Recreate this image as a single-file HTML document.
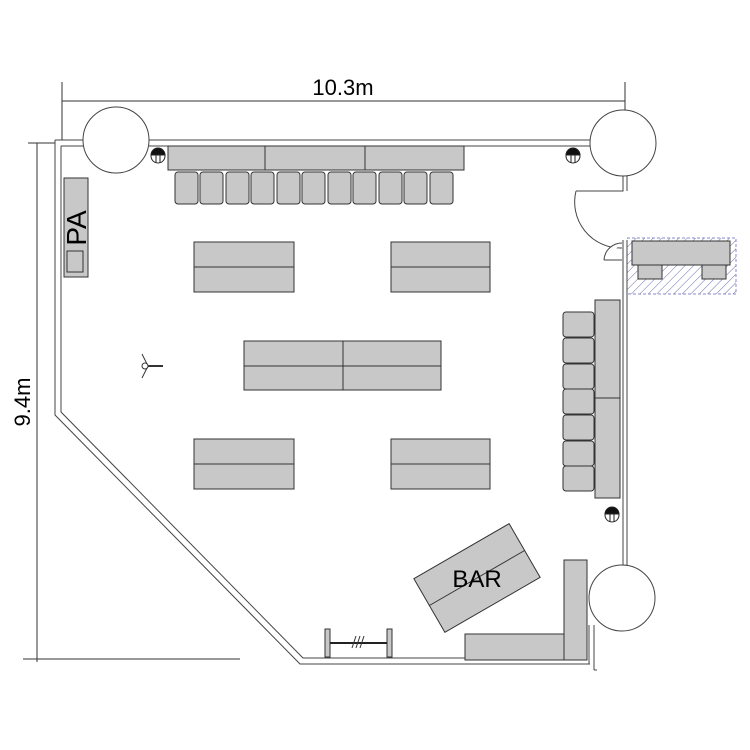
<!DOCTYPE html>
<html><head><meta charset="utf-8"><style>
html,body{margin:0;padding:0;background:#fff;}
svg{display:block;}
</style></head><body>
<svg width="750" height="750" viewBox="0 0 750 750" xmlns="http://www.w3.org/2000/svg" font-family="Liberation Sans, sans-serif">
<defs>
<pattern id="h" width="6" height="6" patternUnits="userSpaceOnUse" patternTransform="rotate(45)">
<line x1="0" y1="0" x2="0" y2="6" stroke="#6a6ab0" stroke-width="1"/>
</pattern>
</defs>
<g stroke="#333" fill="none" stroke-width="1">
<line x1="62" y1="101" x2="625" y2="101"/>
<line x1="62" y1="82" x2="62" y2="140"/>
<line x1="625" y1="82" x2="625" y2="120"/>
<line x1="37" y1="143" x2="37" y2="662"/>
<line x1="23" y1="659" x2="240" y2="659"/>
<line x1="28" y1="143" x2="55" y2="143"/>
</g>
<text x="343" y="95" font-size="22" text-anchor="middle">10.3m</text>
<text x="0" y="0" font-size="22" text-anchor="middle" transform="translate(30,402) rotate(-90)">9.4m</text>

<rect x="627" y="238" width="109" height="56" fill="url(#h)" stroke="#8888cc" stroke-dasharray="3,2"/>
<g fill="#c8c8c8" stroke="#333" stroke-width="1">
<rect x="632" y="241" width="98" height="24"/>
<rect x="638" y="265" width="24" height="14"/>
<rect x="702" y="265" width="24" height="14"/>
</g>

<g stroke="#444" fill="#fff" stroke-width="1">
<path d="M55 140 H83 M149 140 H590 M55 146 H83 M149 146 H590"/>
<path d="M55 140 V415 L300 664 H590 M61 146 V412 L303 658 H584"/>
<path d="M623 176 V191 H576 M627 176 V191"/>
<path d="M623 240 V566 M627 240 V566"/>
<path d="M589 625 V664 M594 625 V670 M594 670 H597"/>
<circle cx="116" cy="140" r="33"/>
<circle cx="623" cy="143" r="33"/>
<circle cx="622" cy="598" r="33"/>
<path d="M576 191 A46 46 0 0 0 622 248"/>
<path d="M604 260 A18 18 0 0 1 622 243"/>
<line x1="604" y1="260" x2="622" y2="260"/>
</g>

<g fill="#c8c8c8" stroke="#333" stroke-width="1">
<rect x="168" y="146" width="296" height="24"/>
<line x1="265" y1="146" x2="265" y2="170"/>
<line x1="365" y1="146" x2="365" y2="170"/>
<g>
<rect x="175" y="172" width="23" height="32" rx="3"/>
<rect x="200" y="172" width="23" height="32" rx="3"/>
<rect x="226" y="172" width="23" height="32" rx="3"/>
<rect x="251" y="172" width="23" height="32" rx="3"/>
<rect x="277" y="172" width="23" height="32" rx="3"/>
<rect x="302" y="172" width="23" height="32" rx="3"/>
<rect x="328" y="172" width="23" height="32" rx="3"/>
<rect x="353" y="172" width="23" height="32" rx="3"/>
<rect x="379" y="172" width="23" height="32" rx="3"/>
<rect x="404" y="172" width="23" height="32" rx="3"/>
<rect x="430" y="172" width="23" height="32" rx="3"/>
</g>
<rect x="64" y="178" width="24" height="99"/>
<rect x="67" y="251" width="16" height="21"/>
<rect x="194" y="242" width="100" height="50"/><line x1="194" y1="267" x2="294" y2="267"/>
<rect x="391" y="242" width="99" height="50"/><line x1="391" y1="267" x2="490" y2="267"/>
<rect x="244" y="341" width="197" height="49"/><line x1="244" y1="366" x2="441" y2="366"/><line x1="343" y1="341" x2="343" y2="390"/>
<rect x="194" y="439" width="100" height="50"/><line x1="194" y1="464" x2="294" y2="464"/>
<rect x="391" y="439" width="99" height="50"/><line x1="391" y1="464" x2="490" y2="464"/>
<rect x="595" y="300" width="25" height="198"/><line x1="595" y1="398" x2="620" y2="398"/>
<rect x="563" y="312" width="31" height="25" rx="3"/>
<rect x="563" y="338" width="31" height="25" rx="3"/>
<rect x="563" y="364" width="31" height="25" rx="3"/>
<rect x="563" y="389" width="31" height="25" rx="3"/>
<rect x="563" y="415" width="31" height="25" rx="3"/>
<rect x="563" y="441" width="31" height="25" rx="3"/>
<rect x="563" y="466" width="31" height="25" rx="3"/>
<g transform="translate(477,578) rotate(-30)">
<rect x="-55" y="-31" width="110" height="62"/>
<line x1="-55" y1="0" x2="55" y2="0"/>
</g>
<rect x="564" y="560" width="23" height="100"/>
<rect x="465" y="634" width="99" height="26"/>
<rect x="325" y="629" width="5" height="28"/>
<rect x="387" y="629" width="5" height="28"/>
</g>
<line x1="330" y1="643" x2="387" y2="643" stroke="#222" stroke-width="2"/>
<path d="M352 648 L356 636 M356 648 L360 636 M360 648 L364 636" stroke="#333"/>
<text x="0" y="0" font-size="28" text-anchor="middle" transform="translate(86,228) rotate(-90)">PA</text>
<text x="477" y="587" font-size="24" text-anchor="middle">BAR</text>
<g stroke="#333" fill="none">
<circle cx="145" cy="366" r="3"/>
<line x1="142" y1="354" x2="147" y2="364"/><line x1="142" y1="378" x2="147" y2="368"/>
<line x1="148" y1="366" x2="163" y2="366" stroke-width="2"/>
</g>
<g stroke="#222" fill="#fff">
<circle cx="158" cy="156" r="7"/><path d="M151 155 A7 7 0 0 1 165 155 Z" fill="#111"/><line x1="156" y1="155" x2="156" y2="163"/><line x1="160" y1="155" x2="160" y2="163"/>
<circle cx="573" cy="156" r="7"/><path d="M566 155 A7 7 0 0 1 580 155 Z" fill="#111"/><line x1="571" y1="155" x2="571" y2="163"/><line x1="575" y1="155" x2="575" y2="163"/>
<circle cx="612" cy="515" r="7"/><path d="M605 514 A7 7 0 0 1 619 514 Z" fill="#111"/><line x1="610" y1="514" x2="610" y2="522"/><line x1="614" y1="514" x2="614" y2="522"/>
</g>
</svg>
</body></html>
